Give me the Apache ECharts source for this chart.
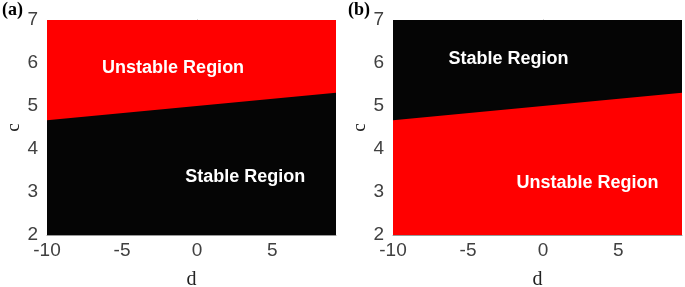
<!DOCTYPE html>
<html>
<head>
<meta charset="utf-8">
<script src="https://cdn.jsdelivr.net/npm/echarts@6/dist/echarts.min.js"></script>
<style>
html, body { margin: 0; padding: 0; background: #fff; }
#main { width: 685px; height: 287px; }
</style>
</head>
<body>
<div id="main"></div>
<script>
// axis ranges
var dRange = [-10, 9.25];
var cRange = [2, 7];

// boundary between the regions (d, c)
var boundaryD = [-10, 9.25];
var boundaryC = [4.67, 5.31];

// region labels [d, c]
var labelsA = [['Unstable Region', -1.6, 5.88], ['Stable Region', 3.2, 3.35]];
var labelsB = [['Stable Region', -2.3, 6.09], ['Unstable Region', 2.95, 3.2]];

var RED = '#ff0000';
var BLACK = '#050505';
var tickFont = { fontFamily: 'Liberation Sans', fontSize: 19, color: '#404040' };

var dom = document.getElementById('main');
var chart = echarts.init(dom);

function pairs(xs, ys) {
	var out = [];
	for (var i = 0; i < xs.length; i++) out.push([xs[i], ys[i]]);
	return out;
}

function topLine() {
	return pairs(dRange, [cRange[1], cRange[1]]);
}

function xAxisFor(idx) {
	return {
		gridIndex: idx, type: 'value', min: dRange[0], max: dRange[1], interval: 5,
		name: 'd', nameLocation: 'middle', nameGap: 35,
		nameTextStyle: { fontFamily: 'Liberation Serif', fontSize: 20, color: '#222' },
		axisLine: { show: true, lineStyle: { color: '#999', width: 1 } },
		axisTick: { show: false },
		splitLine: { show: false },
		axisLabel: Object.assign({ showMaxLabel: false, margin: 6 }, tickFont)
	};
}

function yAxisFor(idx) {
	return {
		gridIndex: idx, type: 'value', min: cRange[0], max: cRange[1], interval: 1,
		name: 'c', nameLocation: 'middle', nameGap: 21, nameRotate: 90,
		nameTextStyle: { fontFamily: 'Liberation Serif', fontSize: 19, color: '#222' },
		axisLine: { show: true, lineStyle: { color: '#999', width: 1 } },
		axisTick: { show: false },
		splitLine: { show: false },
		axisLabel: Object.assign({ margin: 9 }, tickFont)
	};
}

function areaSeries(idx, data, color, z) {
	return {
		type: 'line', xAxisIndex: idx, yAxisIndex: idx, data: data,
		symbol: 'none', silent: true, z: z,
		lineStyle: { width: 0, color: color },
		areaStyle: { color: color, opacity: 1, origin: 'start' }
	};
}

function labelSeries(idx, labels) {
	return {
		type: 'scatter', xAxisIndex: idx, yAxisIndex: idx, symbolSize: 0, z: 10,
		itemStyle: { opacity: 1 },
		data: labels.map(function (l) { return { value: [l[1], l[2]], name: l[0] }; }),
		label: {
			show: true, position: 'inside', formatter: '{b}',
			fontFamily: 'Liberation Sans', fontWeight: 'bold', fontSize: 18, color: '#ffffff'
		}
	};
}

var panelTitle = { fontFamily: 'Liberation Serif', fontWeight: 'bold', fontSize: 18, color: '#000' };

var option = {
	animation: false,
	grid: [
		{ left: 47, top: 20, width: 289, height: 215, outerBoundsMode: 'none', containLabel: false },
		{ left: 393, top: 20, width: 289, height: 215, outerBoundsMode: 'none', containLabel: false }
	],
	xAxis: [xAxisFor(0), xAxisFor(1)],
	yAxis: [yAxisFor(0), yAxisFor(1)],
	title: [
		{ text: '(a)', left: 2, top: 1, padding: 0, textStyle: panelTitle },
		{ text: '(b)', left: 348, top: 1, padding: 0, textStyle: panelTitle }
	],
	series: [
		areaSeries(0, topLine(), RED, 1),
		areaSeries(0, pairs(boundaryD, boundaryC), BLACK, 2),
		labelSeries(0, labelsA),
		areaSeries(1, topLine(), BLACK, 1),
		areaSeries(1, pairs(boundaryD, boundaryC), RED, 2),
		labelSeries(1, labelsB)
	]
};

chart.setOption(option);
</script>
</body>
</html>
